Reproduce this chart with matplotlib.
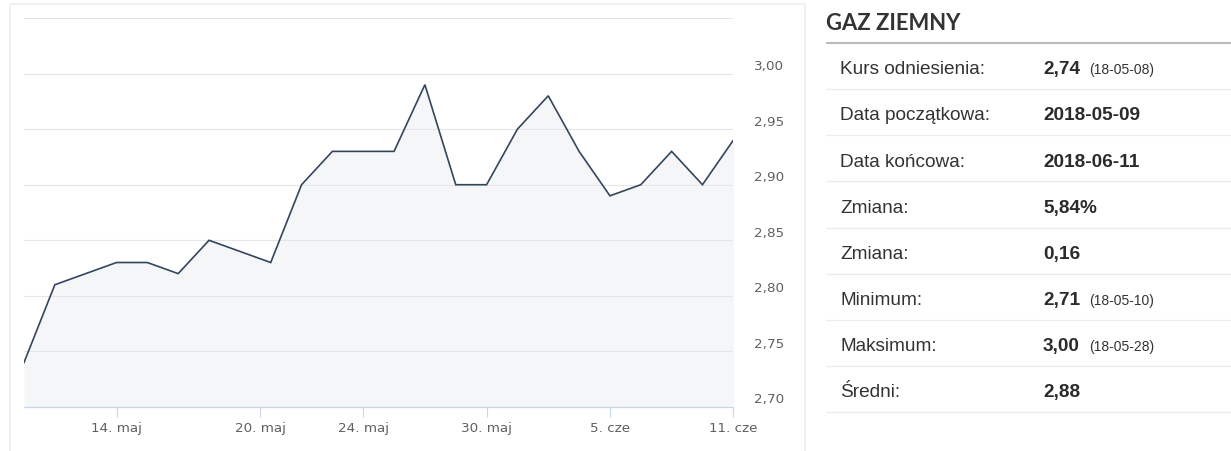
import numpy as np
import matplotlib
matplotlib.use("Agg")
import matplotlib.pyplot as plt
from matplotlib.patches import Rectangle
from matplotlib.transforms import ScaledTranslation

# ---------------- data ----------------
dates = ['2018-05-09', '2018-05-10', '2018-05-11',
         '2018-05-14', '2018-05-15', '2018-05-16', '2018-05-17', '2018-05-18',
         '2018-05-21', '2018-05-22', '2018-05-23', '2018-05-24', '2018-05-25',
         '2018-05-28', '2018-05-29', '2018-05-30', '2018-05-31', '2018-06-01',
         '2018-06-04', '2018-06-05', '2018-06-06', '2018-06-07', '2018-06-08',
         '2018-06-11']
values = [2.74, 2.81, 2.82, 2.83, 2.83, 2.82, 2.85, 2.84,
          2.83, 2.90, 2.93, 2.93, 2.93, 2.99, 2.90, 2.90,
          2.95, 2.98, 2.93, 2.89, 2.90, 2.93, 2.90, 2.94]
tick_dates = ['2018-05-14', '2018-05-20', '2018-05-24', '2018-05-30', '2018-06-05', '2018-06-11']
tick_labels = ['14. maj', '20. maj', '24. maj', '30. maj', '5. cze', '11. cze']
y_ticks = [2.70, 2.75, 2.80, 2.85, 2.90, 2.95, 3.00, 3.05]
y_labels = ['2,70', '2,75', '2,80', '2,85', '2,90', '2,95', '3,00', '']

title = 'GAZ ZIEMNY'
row_labels = ['Kurs odniesienia:', 'Data początkowa:', 'Data końcowa:', 'Zmiana:',
              'Zmiana:', 'Minimum:', 'Maksimum:', 'Średni:']
row_values = ['2,74', '2018-05-09', '2018-06-11', '5,84%', '0,16', '2,71', '3,00', '2,88']
row_notes = ['(18-05-08)', '', '', '', '', '(18-05-10)', '(18-05-28)', '']

# ---------------- figure ----------------
W, H = 1231, 452
fig = plt.figure(figsize=(W / 100, H / 100), dpi=100)
fig.patch.set_facecolor('white')

# background / table axes in pixel coordinates
tab = fig.add_axes([0, 0, 1, 1], zorder=0)
tab.set_xlim(0, W)
tab.set_ylim(H, 0)
tab.axis('off')
tab.add_patch(Rectangle((10, 5), 795, 470, fill=False, ec='#eeeeee', lw=1.2))

# chart axes
ax = fig.add_axes([24 / W, 1 - 408 / H, (733.3 - 24) / W, (408 - 19) / H], zorder=1)
idx = np.arange(len(dates))
day_num = np.array(dates, dtype='datetime64[D]').astype(float)
tick_num = np.array(tick_dates, dtype='datetime64[D]').astype(float)
tick_pos = np.interp(tick_num, day_num, idx)

ax.fill_between(idx, values, 2.70, color='#f5f6f8', lw=0, zorder=1)
ax.plot(idx, values, color='#34465d', lw=1.2, zorder=3, solid_joinstyle='miter')
ax.set_xlim(idx[0], idx[-1])
ax.set_ylim(2.70, 3.05)
ax.set_axisbelow(False)

ax.set_yticks(y_ticks)
ax.set_yticklabels(y_labels)
ax.yaxis.tick_right()
ax.tick_params(axis='y', length=0, pad=15, labelcolor='#606060', labelsize=9.7)
off = ScaledTranslation(0, 8 / 100, fig.dpi_scale_trans)
for lab in ax.get_yticklabels():
    lab.set_verticalalignment('center')
    lab.set_transform(lab.get_transform() + off)
    lab.set_fontfamily('DejaVu Sans')
ax.grid(axis='y', color='#e6e6e6', lw=0.8, zorder=2)

ax.set_xticks(tick_pos)
ax.set_xticklabels(tick_labels, fontfamily='DejaVu Sans')
ax.tick_params(axis='x', length=7.2, width=0.8, color='#ccd6eb', labelcolor='#606060',
               labelsize=9.7, pad=3)
for s in ['top', 'left', 'right']:
    ax.spines[s].set_visible(False)
ax.spines['bottom'].set_color('#ccd6eb')
ax.spines['bottom'].set_linewidth(0.9)
ax.spines['bottom'].set_zorder(4)

# ---------------- table ----------------
tab.text(826, 29.5, title, fontfamily='Lato', fontweight='bold', fontsize=15.8,
         color='#333333', va='baseline')
tab.plot([826, W], [44, 44], color='#bbbbbb', lw=1.5, solid_capstyle='butt')
row_h = (413 - 44) / len(row_labels)
for i, (lab, val, note) in enumerate(zip(row_labels, row_values, row_notes)):
    top = 44 + i * row_h
    base = top + 30.3
    tab.text(840, base, lab, fontfamily='Liberation Sans', fontsize=13.7,
             color='#333333', va='baseline')
    t = tab.text(1043, base, val, fontfamily='Liberation Sans', fontsize=13.7,
                 fontweight='bold', color='#2b2b2b', va='baseline')
    if note:
        tab.annotate(note, xy=(1, base), xycoords=(t, 'data'), xytext=(9, 0),
                     textcoords='offset pixels', fontfamily='Liberation Sans',
                     fontsize=10, color='#333333', va='baseline')
    tab.plot([826, W], [top + row_h, top + row_h], color='#ebebeb', lw=0.9,
             solid_capstyle='butt')

fig.savefig('out.png', dpi=100, facecolor='white')
